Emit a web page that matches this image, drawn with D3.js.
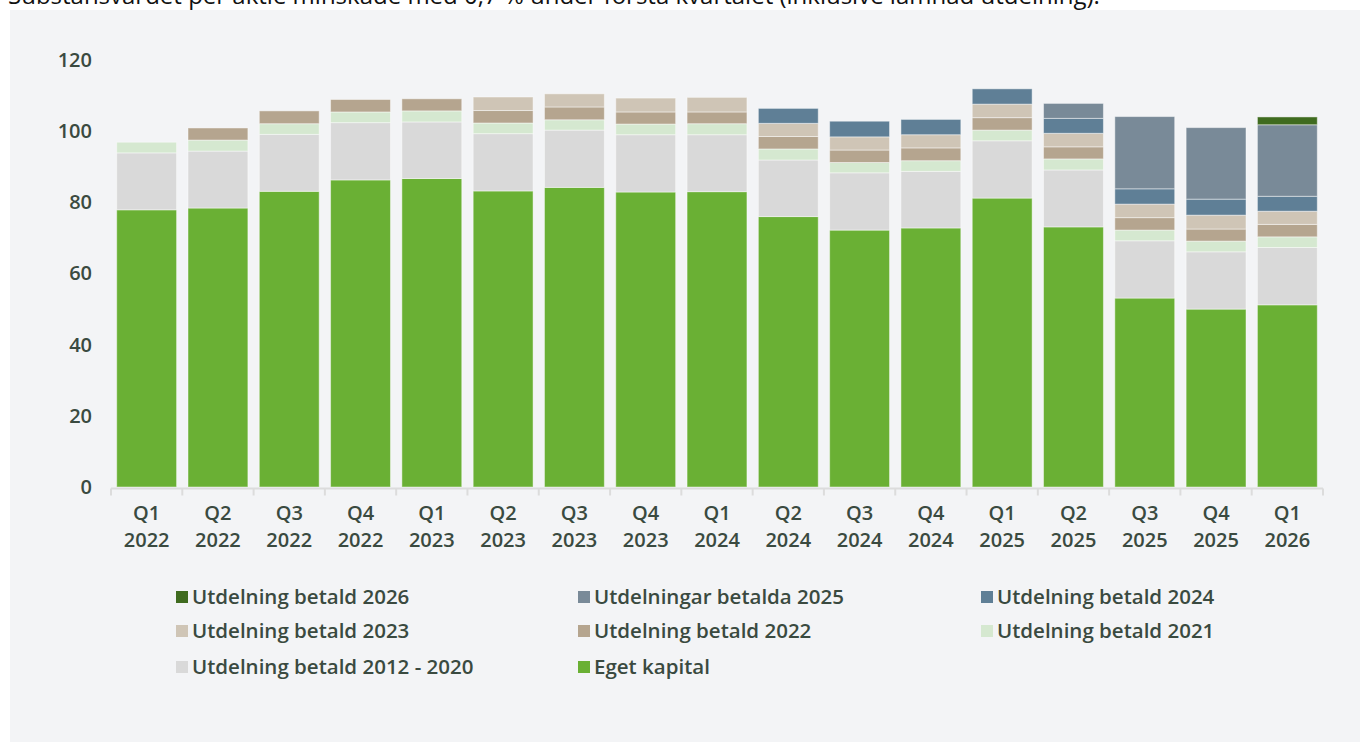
<!DOCTYPE html>
<html>
<head>
<meta charset="utf-8">
<script src="https://cdn.jsdelivr.net/npm/d3@7"></script>
<style>
  body { margin: 0; background: #fff; overflow: hidden; }
  svg { display: block; font-family: "Open Sans", sans-serif; }
</style>
</head>
<body>
<div id="chart"></div>
<script>
// quarters on the x axis
const quarters = ["Q1", "Q2", "Q3", "Q4", "Q1", "Q2", "Q3", "Q4", "Q1", "Q2", "Q3", "Q4", "Q1", "Q2", "Q3", "Q4", "Q1"];
const years = ["2022", "2022", "2022", "2022", "2023", "2023", "2023", "2023", "2024", "2024", "2024", "2024", "2025", "2025", "2025", "2025", "2026"];
const yTicks = [0, 20, 40, 60, 80, 100, 120];

// series, bottom of the stack first
const egetKapital = [77.9, 78.4, 83.1, 86.3, 86.7, 83.2, 84.2, 82.9, 83.0, 76.0, 72.2, 72.8, 81.2, 73.1, 53.1, 50.0, 51.2];
const utd2012_2020 = [16.0, 16.0, 16.0, 16.1, 15.9, 16.1, 16.1, 16.1, 16.0, 15.9, 16.1, 15.9, 16.1, 16.0, 16.1, 16.1, 16.1];
const utd2021 = [3.0, 3.1, 3.0, 3.0, 3.1, 3.0, 2.9, 3.0, 3.1, 3.1, 2.9, 3.0, 3.0, 3.1, 3.0, 3.0, 3.0];
const utd2022 = [0, 3.4, 3.6, 3.5, 3.4, 3.5, 3.6, 3.4, 3.3, 3.5, 3.5, 3.6, 3.5, 3.4, 3.5, 3.4, 3.5];
const utd2023 = [0, 0, 0, 0, 0, 3.8, 3.7, 3.9, 4.1, 3.7, 3.7, 3.7, 3.8, 3.8, 3.8, 3.9, 3.7];
const utd2024 = [0, 0, 0, 0, 0, 0, 0, 0, 0, 4.2, 4.4, 4.3, 4.3, 4.2, 4.3, 4.5, 4.2];
const utd2025 = [0, 0, 0, 0, 0, 0, 0, 0, 0, 0, 0, 0, 0, 4.2, 20.3, 20.1, 20.1];
const utd2026 = [0, 0, 0, 0, 0, 0, 0, 0, 0, 0, 0, 0, 0, 0, 0, 0, 2.2];

const seriesNames = ["Eget kapital", "Utdelning betald 2012 - 2020", "Utdelning betald 2021",
  "Utdelning betald 2022", "Utdelning betald 2023", "Utdelning betald 2024",
  "Utdelningar betalda 2025", "Utdelning betald 2026"];
const seriesValues = [egetKapital, utd2012_2020, utd2021, utd2022, utd2023, utd2024, utd2025, utd2026];
const seriesColors = ["#6ab034", "#d9d9d9", "#d5e8d0", "#b5a58f", "#cfc5b6", "#5f7f96", "#798a98", "#3f6b1f"];

// legend order (rows of three)
const legendOrder = [7, 6, 5, 4, 3, 2, 1, 0];

const W = 1360, H = 742;
const textColor = "#3a4a40";

const svg = d3.select("#chart").append("svg")
  .attr("width", W).attr("height", H);

// heading sentence, cut by the top edge as in the source picture
svg.append("text")
  .attr("x", 8).attr("y", 4)
  .style("font-size", "24px")
  .attr("fill", "#111")
  .text("Substansvärdet per aktie minskade med 0,7 % under första kvartalet (inklusive lämnad utdelning).");

svg.append("rect")
  .attr("x", 10).attr("y", 10)
  .attr("width", W - 10).attr("height", H - 10)
  .attr("fill", "#f3f4f6");

// build table for stack
const table = quarters.map((q, i) => {
  const row = { key: i };
  seriesNames.forEach((s, j) => { row[s] = seriesValues[j][i]; });
  return row;
});
const stacked = d3.stack().keys(seriesNames)(table);

const x = d3.scaleBand()
  .domain(d3.range(quarters.length))
  .range([111, 1323])
  .paddingInner(0.16)
  .paddingOuter(0.08);

const y = d3.scaleLinear()
  .domain([0, 120])
  .range([487, 60]);

// y axis labels (no line)
const yAxisG = svg.append("g")
  .attr("transform", "translate(92,0)")
  .call(d3.axisLeft(y).tickValues(yTicks).tickSize(0).tickPadding(0));
yAxisG.select(".domain").remove();
yAxisG.selectAll("text")
  .attr("fill", textColor)
  .style("font-size", "20px")
  .style("font-weight", "600")
  .style("font-family", "'Open Sans', sans-serif");

// bars
const layers = svg.append("g").selectAll("g")
  .data(stacked)
  .enter().append("g")
  .attr("fill", (d, i) => seriesColors[i]);

layers.selectAll("rect")
  .data(d => d.filter(p => p[1] - p[0] > 0))
  .enter().append("rect")
  .attr("x", d => x(d.data.key))
  .attr("width", x.bandwidth())
  .attr("y", d => y(d[1]))
  .attr("height", d => y(d[0]) - y(d[1]))
  .attr("stroke", "#ffffff")
  .attr("stroke-opacity", 0.45)
  .attr("stroke-width", 1);

// x axis line with ticks at band edges
const axisY = 488.5;
const xAxisG = svg.append("g");
xAxisG.append("line")
  .attr("x1", 111).attr("x2", 1323)
  .attr("y1", axisY).attr("y2", axisY)
  .attr("stroke", "#dcdcdc").attr("stroke-width", 2);
const edges = d3.range(quarters.length + 1).map(i => 111 + i * x.step());
xAxisG.selectAll(".tk")
  .data(edges)
  .enter().append("line")
  .attr("x1", d => d).attr("x2", d => d)
  .attr("y1", axisY).attr("y2", axisY + 7)
  .attr("stroke", "#dcdcdc").attr("stroke-width", 2);

const lbl = svg.append("g").selectAll("text")
  .data(quarters.map((q, i) => ({ q: q, yr: years[i], i: i })))
  .enter().append("text")
  .attr("text-anchor", "middle")
  .attr("fill", textColor)
  .style("font-size", "20px")
  .style("font-weight", "600");
lbl.append("tspan")
  .attr("x", d => x(d.i) + x.bandwidth() / 2)
  .attr("y", 520)
  .text(d => d.q);
lbl.append("tspan")
  .attr("x", d => x(d.i) + x.bandwidth() / 2)
  .attr("y", 547)
  .text(d => d.yr);

// legend
const legColX = [176, 578, 981];
const legRowY = [597, 631, 667];
const leg = svg.append("g").selectAll("g")
  .data(legendOrder)
  .enter().append("g")
  .attr("transform", (d, i) => `translate(${legColX[i % 3]},${legRowY[Math.floor(i / 3)]})`);
leg.append("rect")
  .attr("x", 0).attr("y", -6)
  .attr("width", 12).attr("height", 12)
  .attr("fill", d => seriesColors[d]);
leg.append("text")
  .attr("x", 16).attr("y", 0)
  .attr("dy", "0.35em")
  .attr("fill", textColor)
  .style("font-size", "20.5px")
  .style("font-weight", "600")
  .text(d => seriesNames[d]);
</script>
</body>
</html>
